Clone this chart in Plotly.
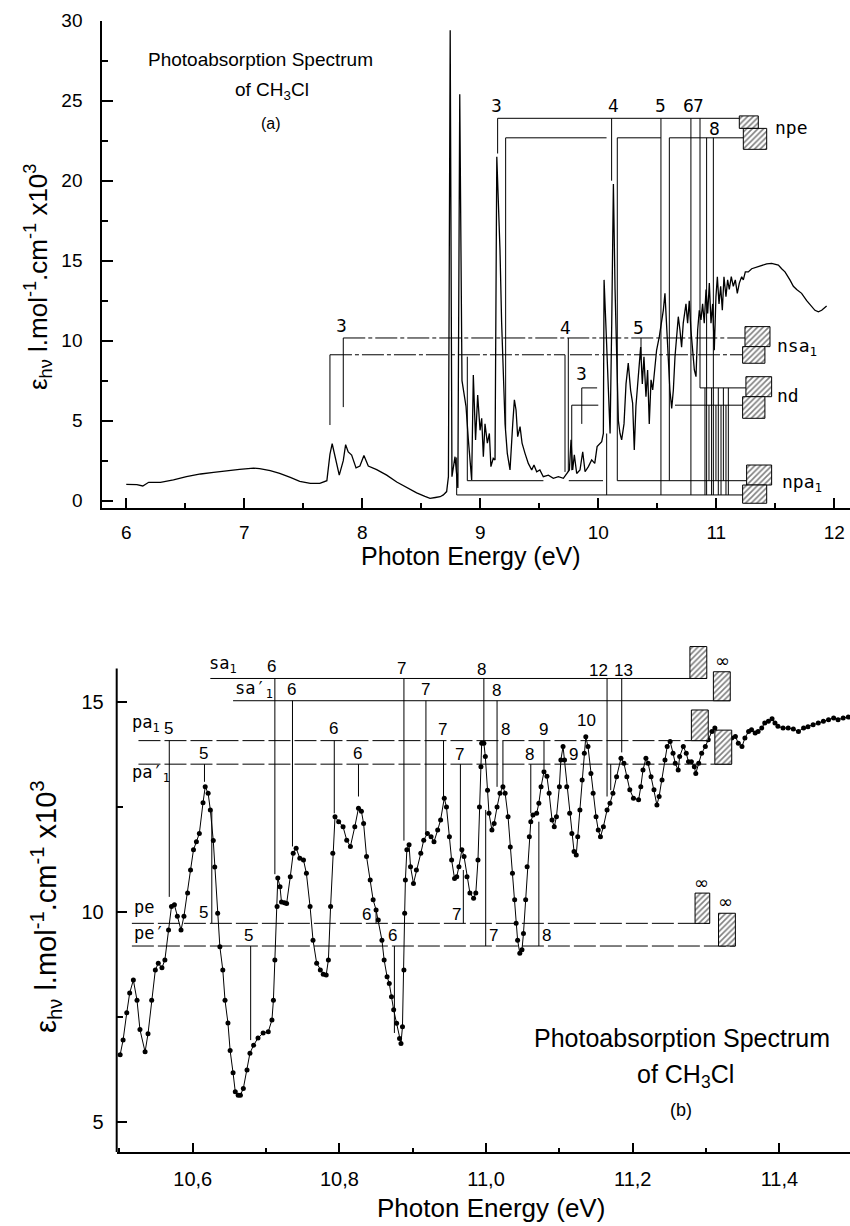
import plotly.graph_objects as go

# ---------------- (a) overview spectrum ----------------
A_ENERGY = [6.00, 6.09, 6.14, 6.19, 6.29, 6.40, 6.51, 6.63, 6.74, 6.85,
            6.96, 7.08, 7.13, 7.22, 7.30, 7.39, 7.47, 7.56, 7.64, 7.70,
            7.726, 7.745, 7.769, 7.805, 7.839, 7.859, 7.881, 7.91, 7.947, 7.98,
            8.014, 8.051, 8.122, 8.207, 8.292, 8.376, 8.461, 8.531, 8.574, 8.62,
            8.66, 8.687, 8.715, 8.73, 8.745, 8.76, 8.786, 8.81, 8.826, 8.845,
            8.856, 8.879, 8.899, 8.927, 8.941, 8.96, 8.978, 8.998, 9.012, 9.026,
            9.04, 9.06, 9.077, 9.09, 9.11, 9.125, 9.14, 9.167, 9.181, 9.21,
            9.229, 9.252, 9.275, 9.289, 9.303, 9.317, 9.337, 9.354, 9.379, 9.407,
            9.436, 9.455, 9.478, 9.505, 9.534, 9.577, 9.619, 9.662, 9.704, 9.732,
            9.755, 9.769, 9.783, 9.797, 9.817, 9.845, 9.868, 9.888, 9.916, 9.944,
            9.97, 9.99, 10.029, 10.043, 10.049, 10.066, 10.085, 10.1, 10.114, 10.128,
            10.142, 10.156, 10.17, 10.184, 10.198, 10.218, 10.235, 10.254, 10.274, 10.291,
            10.305, 10.319, 10.339, 10.359, 10.373, 10.387, 10.404, 10.418, 10.432, 10.447,
            10.461, 10.475, 10.494, 10.517, 10.537, 10.551, 10.565, 10.579, 10.593, 10.607,
            10.622, 10.636, 10.65, 10.664, 10.678, 10.692, 10.706, 10.72, 10.743, 10.757,
            10.771, 10.785, 10.8, 10.814, 10.828, 10.842, 10.856, 10.87, 10.884, 10.898,
            10.913, 10.927, 10.941, 10.955, 10.969, 10.983, 10.997, 11.009, 11.023, 11.037,
            11.051, 11.065, 11.082, 11.096, 11.11, 11.127, 11.144, 11.161, 11.178, 11.195,
            11.215, 11.229, 11.246, 11.271, 11.3, 11.342, 11.384, 11.427, 11.469, 11.497,
            11.526, 11.554, 11.582, 11.624, 11.653, 11.681, 11.723, 11.766, 11.808, 11.836,
            11.865, 11.893, 11.935]
A_EPS = [1.02, 1.00, 0.92, 1.15, 1.15, 1.30, 1.50, 1.67, 1.77, 1.88,
         1.96, 2.04, 2.00, 1.88, 1.71, 1.46, 1.21, 1.08, 1.08, 1.25,
         2.90, 3.56, 2.73, 1.60, 2.50, 3.50, 3.05, 2.85, 2.05, 2.17,
         2.83, 2.17, 1.94, 1.60, 1.17, 0.83, 0.49, 0.27, 0.15, 0.20,
         0.25, 0.36, 0.57, 1.5, 29.4, 1.5, 2.75, 0.8, 25.4, 7.5,
         6.9, 5.9, 3.8, 1.3, 7.86, 3.8, 6.6, 4.4, 5.15, 2.75,
         4.8, 3.6, 4.2, 2.13, 2.65, 2.55, 21.5, 15.67, 11.1, 4.8,
         2.96, 1.92, 4.8, 6.3, 5.67, 4.0, 4.63, 3.6, 2.96, 2.33,
         1.92, 2.23, 1.81, 1.92, 1.5, 1.6, 1.4, 1.5, 1.4, 1.7,
         1.92, 3.8, 1.92, 2.86, 1.7, 1.92, 3.06, 1.81, 2.13, 2.55,
         2.33, 3.38, 3.69, 4.2, 13.8, 10.67, 6.92, 4.2, 11.1, 19.8,
         13.2, 7.96, 5.0, 4.2, 3.8, 4.8, 7.3, 8.6, 6.9, 6.1,
         3.17, 5.9, 7.75, 9.6, 7.3, 9.0, 6.5, 8.17, 4.8, 7.55,
         6.92, 8.17, 9.4, 10.25, 11.1, 11.9, 12.96, 11.1, 9.0, 6.9,
         5.77, 6.9, 9.0, 10.25, 11.5, 10.67, 9.6, 11.1, 12.3, 11.1,
         12.5, 10.67, 9.4, 8.17, 7.75, 10.67, 11.9, 11.3, 12.3, 11.1,
         13.2, 11.7, 13.6, 11.1, 12.3, 9.4, 12.75, 14.0, 12.3, 13.4,
         11.9, 14.0, 12.75, 13.8, 13.2, 14.0, 13.4, 13.8, 12.96, 13.6,
         14.0, 13.8, 14.3, 14.3, 14.5, 14.6, 14.73, 14.8, 14.83, 14.8,
         14.73, 14.5, 14.3, 13.8, 13.4, 13.2, 12.96, 12.5, 12.1, 11.9,
         11.8, 11.9, 12.17]

# ---------------- (b) detailed spectrum ----------------
B_ENERGY = [10.501, 10.505, 10.510, 10.514, 10.519, 10.524, 10.528, 10.535, 10.539, 10.544,
            10.549, 10.553, 10.558, 10.562, 10.567, 10.571, 10.575, 10.579, 10.584, 10.588,
            10.593, 10.597, 10.601, 10.605, 10.609, 10.614, 10.617, 10.621, 10.624, 10.628,
            10.630, 10.634, 10.637, 10.641, 10.644, 10.648, 10.651, 10.655, 10.658, 10.662,
            10.665, 10.669, 10.674, 10.678, 10.683, 10.689, 10.696, 10.703, 10.708, 10.710,
            10.712, 10.715, 10.716, 10.719, 10.721, 10.725, 10.728, 10.733, 10.737, 10.741,
            10.746, 10.751, 10.755, 10.760, 10.764, 10.769, 10.774, 10.778, 10.782, 10.785,
            10.788, 10.791, 10.794, 10.799, 10.805, 10.810, 10.815, 10.821, 10.826, 10.830,
            10.833, 10.837, 10.842, 10.846, 10.850, 10.853, 10.858, 10.861, 10.865, 10.868,
            10.871, 10.874, 10.878, 10.882, 10.884, 10.886, 10.888, 10.889, 10.890, 10.892,
            10.895, 10.897, 10.901, 10.905, 10.911, 10.915, 10.920, 10.925, 10.929, 10.934,
            10.938, 10.943, 10.946, 10.950, 10.953, 10.957, 10.960, 10.963, 10.967, 10.970,
            10.974, 10.978, 10.983, 10.986, 10.989, 10.991, 10.993, 10.994, 10.997, 10.999,
            11.002, 11.004, 11.008, 11.011, 11.015, 11.019, 11.023, 11.026, 11.030, 11.033,
            11.036, 11.039, 11.041, 11.043, 11.046, 11.049, 11.051, 11.054, 11.056, 11.059,
            11.061, 11.064, 11.069, 11.072, 11.075, 11.079, 11.083, 11.086, 11.090, 11.093,
            11.096, 11.100, 11.102, 11.105, 11.107, 11.110, 11.114, 11.117, 11.120, 11.123,
            11.125, 11.128, 11.131, 11.134, 11.136, 11.139, 11.143, 11.146, 11.150, 11.153,
            11.156, 11.160, 11.165, 11.169, 11.173, 11.178, 11.184, 11.188, 11.192, 11.196,
            11.201, 11.208, 11.211, 11.214, 11.218, 11.221, 11.225, 11.229, 11.233, 11.236,
            11.240, 11.244, 11.247, 11.251, 11.255, 11.258, 11.262, 11.264, 11.269, 11.273,
            11.276, 11.280, 11.284, 11.286, 11.290, 11.294, 11.299, 11.303, 11.308, 11.312,
            11.317, 11.321, 11.326, 11.330, 11.335, 11.340, 11.344, 11.349, 11.353, 11.358,
            11.362, 11.367, 11.371, 11.376, 11.380, 11.385, 11.390, 11.394, 11.398, 11.405,
            11.412, 11.419, 11.426, 11.433, 11.439, 11.446, 11.453, 11.460, 11.467, 11.474,
            11.480, 11.487, 11.494]
B_EPS = [6.60, 6.95, 7.60, 8.07, 8.38, 7.90, 7.20, 6.67, 7.10, 7.90,
         8.62, 8.78, 8.67, 8.86, 9.57, 10.13, 10.17, 9.90, 9.57, 9.90,
         10.45, 11.00, 11.48, 11.67, 11.87, 12.60, 12.98, 12.83, 12.43, 11.70,
         11.07, 9.97, 9.17, 8.62, 7.90, 7.36, 6.70, 6.17, 5.72, 5.64,
         5.64, 5.80, 6.24, 6.64, 6.83, 7.00, 7.12, 7.15, 7.43, 7.90,
         8.86, 10.13, 10.81, 10.60, 10.24, 10.22, 10.20, 10.84, 11.40, 11.52,
         11.28, 11.24, 10.92, 10.13, 9.33, 8.78, 8.62, 8.52, 8.50, 8.86,
         10.13, 11.40, 12.27, 12.15, 12.03, 11.71, 11.56, 12.03, 12.47, 12.40,
         12.11, 11.32, 10.76, 10.29, 10.05, 9.81, 9.33, 8.86, 8.46, 8.30,
         7.98, 7.67, 7.35, 6.99, 6.87, 7.27, 8.62, 9.97, 10.76, 11.48,
         11.60, 11.08, 10.68, 11.00, 11.40, 11.71, 11.87, 11.79, 11.67, 11.95,
         12.19, 12.71, 12.50, 11.79, 11.24, 10.80, 10.84, 11.08, 11.48, 11.32,
         10.84, 10.45, 10.33, 10.45, 11.24, 12.50, 13.46, 14.02, 14.02, 13.70,
         12.90, 12.35, 11.95, 12.11, 12.50, 12.83, 12.98, 12.83, 12.27, 11.55,
         10.92, 10.29, 9.73, 9.33, 9.02, 9.10, 9.49, 10.29, 11.08, 11.79,
         12.15, 12.31, 12.35, 12.59, 12.98, 13.34, 13.23, 12.83, 12.19, 12.03,
         12.27, 12.98, 13.62, 13.94, 13.62, 12.98, 12.35, 11.87, 11.44, 11.36,
         11.79, 12.43, 13.14, 13.78, 14.17, 13.94, 13.30, 12.83, 12.27, 11.95,
         11.79, 12.03, 12.43, 12.59, 12.83, 13.22, 13.66, 13.54, 13.22, 12.91,
         12.71, 12.67, 12.98, 13.38, 13.66, 13.54, 13.22, 12.91, 12.55, 12.75,
         13.14, 13.62, 13.94, 14.06, 13.78, 13.54, 13.38, 13.70, 13.94, 13.78,
         13.58, 13.58, 13.46, 13.30, 13.54, 13.78, 13.94, 14.10, 14.30, 14.38,
         14.22, 14.10, 14.14, 14.02, 14.14, 14.18, 14.02, 13.94, 14.14, 14.30,
         14.34, 14.26, 14.30, 14.38, 14.50, 14.54, 14.60, 14.50, 14.42, 14.38,
         14.38, 14.36, 14.30, 14.38, 14.41, 14.46, 14.50, 14.54, 14.58, 14.62,
         14.58, 14.62, 14.64]
assert len(A_ENERGY) == len(A_EPS)
assert len(B_ENERGY) == len(B_EPS)

# ---------------- assignment marks, panel (a) ----------------
A_LEVELS = [
    (23.9, 9.147, 11.195, "solid"),
    (22.68, 9.215, 10.07, "solid"), (22.68, 10.161, 10.53, "solid"), (22.68, 10.602, 11.229, "solid"),
    (10.17, 7.839, 11.243, "22px,3px,4px,3px"),
    (9.12, 7.726, 9.718, "22px,3px,4px,3px"), (9.12, 9.76, 11.223, "22px,3px,4px,3px"),
    (7.05, 9.86, 9.99, "solid"), (7.05, 10.862, 11.251, "solid"),
    (5.97, 9.775, 10.0, "solid"), (5.97, 10.65, 11.223, "solid"),
    (1.25, 8.89, 9.535, "solid"), (1.25, 9.75, 10.04, "solid"), (1.25, 10.161, 11.257, "solid"),
    (0.36, 8.8, 11.223, "solid"),
]
A_TICKS = [
    (7.839, 10.17, 5.85), (7.726, 9.12, 4.73),
    (9.147, 23.9, 21.7), (10.113, 23.9, 20.0), (10.531, 23.9, 0.36), (10.785, 23.9, 0.36),
    (10.862, 23.9, 7.05),
    (9.215, 22.68, 4.5), (10.161, 22.68, 1.25), (10.602, 22.68, 1.25), (10.918, 22.68, 0.36),
    (10.975, 22.68, 0.36),
    (9.746, 10.17, 1.8), (9.718, 9.12, 1.8), (10.362, 10.17, 8.8),
    (9.86, 7.05, 4.8), (9.775, 5.97, 1.9),
    (8.89, 1.25, 9.0), (8.8, 0.36, 2.7), (10.071, 0.36, 4.2),
    (10.904, 7.05, 0.36), (10.938, 5.97, 1.25), (10.96, 7.05, 0.36), (10.997, 5.97, 1.25),
    (11.017, 7.05, 0.36), (11.04, 5.97, 0.36), (11.06, 7.05, 1.25), (11.082, 5.97, 0.36),
    (11.102, 7.05, 0.36),
]
A_TICK_LABELS = [
    (7.826, 10.9, "3"), (9.14, 24.65, "3"), (10.13, 24.65, "4"), (10.531, 24.65, "5"),
    (10.768, 24.65, "6"), (10.845, 24.65, "7"), (10.983, 23.25, "8"),
    (9.718, 10.8, "4"), (9.859, 7.9, "3"), (10.339, 10.8, "5"),
]
A_BOXES = [
    (11.195, 11.356, 23.27, 24.05), (11.229, 11.427, 21.96, 23.27),
    (11.243, 11.455, 9.63, 10.88), (11.223, 11.412, 8.59, 9.63),
    (11.251, 11.469, 6.5, 7.75), (11.223, 11.412, 5.15, 6.5),
    (11.257, 11.469, 0.98, 2.23), (11.223, 11.427, -0.16, 0.98),
]
A_SERIES = [(11.48, 23.3, "npe"), (11.50, 9.63, "nsa<sub>1</sub>"),
            (11.50, 6.6, "nd"), (11.54, 1.08, "npa<sub>1</sub>")]

# ---------------- assignment marks, panel (b) ----------------
B_LEVELS = [
    (15.56, 10.624, 11.301, "solid"),
    (15.03, 10.655, 11.333, "solid"),
    (14.08, 10.526, 11.303, "22px,4px"),
    (13.52, 10.526, 11.335, "22px,4px"),
    (9.73, 10.517, 11.305, "22px,4px"),
    (9.19, 10.517, 11.34, "22px,4px"),
]
B_TICKS = [
    (10.712, 15.56, 10.9), (10.888, 15.56, 11.7), (10.997, 15.56, 14.05),
    (11.165, 15.56, 12.75), (11.185, 15.56, 13.8),
    (10.736, 15.03, 11.56), (10.918, 15.03, 11.87), (11.015, 15.03, 12.98),
    (10.568, 14.08, 10.36), (10.793, 14.08, 12.35), (10.942, 14.08, 12.75),
    (11.023, 14.08, 12.98), (11.079, 14.08, 13.4),
    (10.616, 13.52, 13.1), (10.826, 13.52, 12.75), (10.965, 13.52, 11.48),
    (11.061, 13.52, 12.35), (11.17, 13.52, 12.9),
    (10.626, 9.73, 12.43), (10.85, 9.73, 10.05), (10.969, 9.73, 11.0),
    (10.679, 9.19, 6.95), (10.875, 9.19, 7.12), (10.9995, 9.19, 12.43), (11.072, 9.19, 12.15),
]
B_TICK_LABELS = [
    (10.707, 15.84, "6"), (10.885, 15.80, "7"), (10.994, 15.78, "8"),
    (11.154, 15.74, "12"), (11.187, 15.74, "13"),
    (10.735, 15.29, "6"), (10.917, 15.29, "7"), (11.014, 15.27, "8"),
    (10.567, 14.37, "5"), (10.792, 14.37, "6"), (10.941, 14.35, "7"),
    (11.026, 14.35, "8"), (11.078, 14.35, "9"), (11.137, 14.55, "10"),
    (10.615, 13.78, "5"), (10.824, 13.78, "6"), (10.964, 13.74, "7"),
    (11.059, 13.74, "8"), (11.119, 13.74, "9"),
    (10.614, 9.98, "5"), (10.837, 9.95, "6"), (10.959, 9.95, "7"),
    (10.676, 9.45, "5"), (10.873, 9.45, "6"), (11.010, 9.43, "7"), (11.083, 9.43, "8"),
]
B_BOXES = [
    (11.278, 11.301, 15.56, 16.32), (11.31, 11.333, 15.03, 15.72),
    (11.28, 11.303, 14.08, 14.81), (11.312, 11.335, 13.52, 14.33),
    (11.285, 11.305, 9.73, 10.45), (11.317, 11.34, 9.19, 9.97),
]
B_INFINITY = [(11.289, 16.55), (11.322, 15.98), (11.294, 10.7), (11.327, 10.26)]
B_SERIES = [(10.619, 15.9, "sa<sub>1</sub>"), (10.655, 15.3, "sa′<sub>1</sub>"),
            (10.514, 14.5, "pa<sub>1</sub>"), (10.514, 13.3, "pa′<sub>1</sub>"),
            (10.517, 10.12, "pe"), (10.517, 9.5, "pe′")]

A_XTICKS = [6, 7, 8, 9, 10, 11, 12]
A_YTICKS = [0, 5, 10, 15, 20, 25, 30]
B_XTICKS = [10.6, 10.8, 11.0, 11.2, 11.4]
B_XTICKTEXT = ["10,6", "10,8", "11,0", "11,2", "11,4"]
B_YTICKS = [5, 10, 15]

W, H = 850, 1226
BLACK = "black"
SANS = "Liberation Sans, Arial, sans-serif"
MONO = "DejaVu Sans Mono, monospace"
LBL = "DejaVu Sans, sans-serif"

fig = go.Figure()


def add_levels(levels, xa, ya):
    groups = {}
    for y, x0, x1, dash in levels:
        groups.setdefault(dash, ([], []))
        gx, gy = groups[dash]
        gx += [x0, x1, None]
        gy += [y, y, None]
    for dash, (gx, gy) in groups.items():
        fig.add_trace(go.Scatter(x=gx, y=gy, mode="lines", xaxis=xa, yaxis=ya,
                                 line=dict(color=BLACK, width=1, dash=dash),
                                 hoverinfo="skip", showlegend=False))


def add_ticks(ticks, xa, ya):
    gx, gy = [], []
    for x, y0, y1 in ticks:
        gx += [x, x, None]
        gy += [y0, y1, None]
    fig.add_trace(go.Scatter(x=gx, y=gy, mode="lines", xaxis=xa, yaxis=ya,
                             line=dict(color=BLACK, width=1),
                             hoverinfo="skip", showlegend=False))


def add_boxes(boxes, xa, ya):
    for x0, x1, y0, y1 in boxes:
        fig.add_trace(go.Scatter(x=[x0, x1, x1, x0, x0], y=[y0, y0, y1, y1, y0],
                                 mode="lines", fill="toself", xaxis=xa, yaxis=ya,
                                 fillcolor="white",
                                 fillpattern=dict(shape="/", fgcolor=BLACK, bgcolor="white",
                                                  size=4, solidity=0.4),
                                 line=dict(color=BLACK, width=1),
                                 hoverinfo="skip", showlegend=False))


# panel (a)
fig.add_trace(go.Scatter(x=A_ENERGY, y=A_EPS, mode="lines", xaxis="x", yaxis="y",
                         line=dict(color=BLACK, width=1.3), showlegend=False))
add_levels(A_LEVELS, "x", "y")
add_ticks(A_TICKS, "x", "y")
add_boxes(A_BOXES, "x", "y")

# panel (b)
fig.add_trace(go.Scatter(x=B_ENERGY, y=B_EPS, mode="lines+markers", xaxis="x2", yaxis="y2",
                         line=dict(color=BLACK, width=1),
                         marker=dict(color=BLACK, size=5), showlegend=False))
add_levels(B_LEVELS, "x2", "y2")
add_ticks(B_TICKS, "x2", "y2")
add_boxes(B_BOXES, "x2", "y2")

ann = []
for x, y, t in A_TICK_LABELS:
    ann.append(dict(x=x, y=y, xref="x", yref="y", text=t, showarrow=False,
                    font=dict(family=LBL, size=17, color=BLACK)))
for x, y, t in A_SERIES:
    ann.append(dict(x=x, y=y, xref="x", yref="y", text=t, showarrow=False, xanchor="left",
                    font=dict(family=MONO, size=18, color=BLACK)))
for x, y, t in B_TICK_LABELS:
    ann.append(dict(x=x, y=y, xref="x2", yref="y2", text=t, showarrow=False,
                    font=dict(family=SANS, size=17, color=BLACK)))
for x, y, t in B_SERIES:
    ann.append(dict(x=x, y=y, xref="x2", yref="y2", text=t, showarrow=False, xanchor="left",
                    font=dict(family=MONO, size=17, color=BLACK)))
for x, y in B_INFINITY:
    ann.append(dict(x=x, y=y, xref="x2", yref="y2", text="∞", showarrow=False,
                    font=dict(family=LBL, size=18, color=BLACK)))


def px(x):
    return x / W


def py(y):
    return 1 - y / H


texts = [
    (260, 60, "Photoabsorption Spectrum", 19, "center"),
    (272, 91, "of CH<sub>3</sub>Cl", 19, "center"),
    (271, 123, "(a)", 16, "center"),
    (532, 1038, "Photoabsorption Spectrum", 25, "left"),
    (685, 1076, "of CH<sub>3</sub>Cl", 25, "center"),
    (681, 1110, "(b)", 18, "center"),
    (471, 556, "Photon Energy (eV)", 25, "center"),
    (491, 1208, "Photon Energy (eV)", 26, "center"),
]
for x, y, t, s, xa in texts:
    ann.append(dict(x=px(x), y=py(y), xref="paper", yref="paper", text=t, showarrow=False,
                    xanchor=xa, yanchor="middle", font=dict(family=SANS, size=s, color=BLACK)))

ytitle = "ε<sub>hν</sub> l.mol<sup>-1</sup>.cm<sup>-1</sup> x10<sup>3</sup>"
ann.append(dict(x=px(38), y=py(277), xref="paper", yref="paper", text=ytitle, textangle=-90,
                xanchor="center", yanchor="middle",
                showarrow=False, font=dict(family=SANS, size=26, color=BLACK)))
ann.append(dict(x=px(46), y=py(907), xref="paper", yref="paper", text=ytitle, textangle=-90,
                xanchor="center", yanchor="middle",
                showarrow=False, font=dict(family=SANS, size=29, color=BLACK)))

B_YRANGE = [4.286, 16.476]
axis_common = dict(showgrid=False, zeroline=False, linecolor=BLACK, ticks="inside",
                   tickcolor=BLACK, automargin=False)

fig.update_layout(
    width=W, height=H, margin=dict(l=0, r=0, t=0, b=0),
    paper_bgcolor="white", plot_bgcolor="white", showlegend=False,
    annotations=ann,
    xaxis=dict(domain=[px(102.3), 1], range=[5.797, 12.133], anchor="y",
               showline=True, linewidth=2, tickvals=A_XTICKS, ticklen=10, tickwidth=1.5,
               tickfont=dict(family=SANS, size=19, color=BLACK), ticklabelstandoff=6,
               minor=dict(tickvals=[6.5, 7.5, 8.5, 9.5, 10.5, 11.5], ticklen=5, tickwidth=1.5,
                          ticks="inside", tickcolor=BLACK),
               **axis_common),
    yaxis=dict(domain=[py(508.3), py(20.7)], range=[-0.475, 30], anchor="x",
               showline=True, linewidth=2, tickvals=A_YTICKS, ticklen=11, tickwidth=1.5,
               tickfont=dict(family=SANS, size=19, color=BLACK), ticklabelstandoff=14,
               minor=dict(tickvals=[2.5, 7.5, 12.5, 17.5, 22.5, 27.5], ticklen=6, tickwidth=1.5,
                          ticks="inside", tickcolor=BLACK),
               **axis_common),
    xaxis2=dict(domain=[px(116.7), 1], range=[10.4963, 11.4963], anchor="y2",
                showline=True, linewidth=2, tickvals=B_XTICKS, ticktext=B_XTICKTEXT,
                ticklen=9, tickwidth=1.5,
                tickfont=dict(family=SANS, size=20, color=BLACK), ticklabelstandoff=8,
                minor=dict(tickvals=[10.5, 10.7, 10.9, 11.1, 11.3], ticklen=4, tickwidth=1.5,
                           ticks="inside", tickcolor=BLACK),
                **axis_common),
    yaxis2=dict(domain=[py(1152), py(640)], range=B_YRANGE, anchor="x2",
                showline=False, tickvals=B_YTICKS, ticklen=10, tickwidth=1.5,
                tickfont=dict(family=SANS, size=20, color=BLACK), ticklabelstandoff=12,
                minor=dict(tickvals=[7.5, 12.5], ticklen=6, tickwidth=1.5,
                           ticks="inside", tickcolor=BLACK),
                **axis_common),
    shapes=[dict(type="line", xref="paper", yref="y2", x0=px(116.7), x1=px(116.7),
                 y0=B_YRANGE[0], y1=15.8, line=dict(color=BLACK, width=2))],
)

fig.write_html("out.html", config={"displayModeBar": False},
               post_script="document.body.style.margin='0';document.body.style.overflow='hidden';")
